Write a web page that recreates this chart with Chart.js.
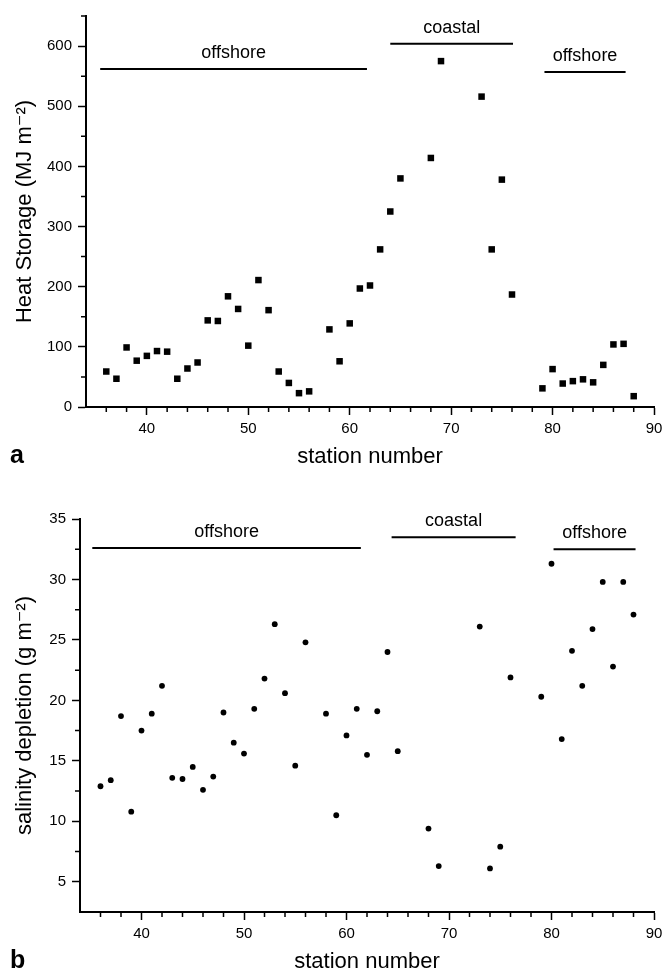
<!DOCTYPE html>
<html>
<head>
<meta charset="utf-8">
<script src="https://cdn.jsdelivr.net/npm/chart.js@4.4.1/dist/chart.umd.min.js"></script>
<style>
  body { margin: 0; background: #fff; }
  canvas { display: block; }
</style>
</head>
<body>
<canvas id="heatChart" width="663" height="470"></canvas>
<canvas id="salinityChart" width="663" height="505"></canvas>
<script>
const stations = [36, 37, 38, 39, 40, 41, 42, 43, 44, 45, 46, 47, 48, 49, 50, 51, 52, 53, 54, 55, 56,
  58, 59, 60, 61, 62, 63, 64, 65, 68, 69, 73, 74, 75, 76, 79, 80, 81, 82, 83, 84, 85, 86, 87, 88];

const heatStorage = [59, 47, 99, 77, 85, 93, 92, 47, 64, 74, 144, 143, 184, 163, 102, 211, 161, 59, 40, 23, 26,
  129, 76, 139, 197, 202, 262, 325, 380, 414, 575, 516, 262, 378, 187, 31, 63, 39, 43, 46, 41, 70, 104, 105, 18];

const salinityDepletion = [12.9, 13.4, 18.7, 10.8, 17.5, 18.9, 21.2, 13.6, 13.5, 14.5, 12.6, 13.7, 19.0, 16.5,
  15.6, 19.3, 21.8, 26.3, 20.6, 14.6, 24.8, 18.9, 10.5, 17.1, 19.3, 15.5, 19.1, 24.0, 15.8, 9.4, 6.3, 26.1, 6.1,
  7.9, 21.9, 20.3, 31.3, 16.8, 24.1, 21.2, 25.9, 29.8, 22.8, 29.8, 27.1];

const stationTicks = [40, 50, 60, 70, 80, 90];
const heatTicks = [0, 100, 200, 300, 400, 500, 600];
const salinityTicks = [5, 10, 15, 20, 25, 30, 35];

// station ranges of the water types, and the level their bar is drawn at
const regionNames = ["offshore", "coastal", "offshore"];
const heatRegionFrom = [35.4, 64.0, 79.2];
const heatRegionTo = [61.7, 76.1, 87.2];
const heatRegionLevel = [562, 604, 557];
const salinityRegionFrom = [35.2, 64.4, 80.2];
const salinityRegionTo = [61.4, 76.5, 88.2];
const salinityRegionLevel = [32.6, 33.5, 32.5];

const FONT = "'Liberation Sans', Arial, 'DejaVu Sans', sans-serif";
Chart.defaults.font.family = FONT;
Chart.defaults.color = "#000";

const minorTicks = {
  id: "minorTicks",
  afterDraw(chart, args, opts) {
    const { ctx, scales } = chart;
    const x = scales.x, y = scales.y;
    ctx.save();
    ctx.strokeStyle = "#000";
    ctx.lineWidth = 1.5;
    ctx.beginPath();
    for (let v = x.min + opts.xStep; v < x.max; v += opts.xStep) {
      if (v % opts.xMajor === 0) continue;
      const px = x.getPixelForValue(v);
      ctx.moveTo(px, x.top);
      ctx.lineTo(px, x.top + 5);
    }
    for (let v = y.min + opts.yStep; v <= y.max; v += opts.yStep) {
      if (v % opts.yMajor === 0) continue;
      const py = y.getPixelForValue(v);
      ctx.moveTo(y.right - 5, py);
      ctx.lineTo(y.right, py);
    }
    ctx.stroke();
    ctx.restore();
  }
};

const regionLabels = {
  id: "regionLabels",
  afterDraw(chart, args, opts) {
    const { ctx, scales: { x, y } } = chart;
    ctx.save();
    ctx.fillStyle = "#000";
    ctx.font = "18px " + FONT;
    ctx.textAlign = "center";
    ctx.textBaseline = "alphabetic";
    regionNames.forEach((name, i) => {
      const px = x.getPixelForValue((opts.from[i] + opts.to[i]) / 2);
      const py = y.getPixelForValue(opts.level[i]) - 11;
      ctx.fillText(name, px, py);
    });
    ctx.font = "bold 25px " + FONT;
    ctx.textAlign = "left";
    ctx.textBaseline = "middle";
    ctx.fillText(opts.panel, 10, chart.height - 14);
    ctx.restore();
  }
};

function regionLines(from, to, level) {
  return from.map((f, i) => ({
    data: [{ x: f, y: level[i] }, { x: to[i], y: level[i] }],
    showLine: true,
    borderColor: "#000",
    borderWidth: 2,
    pointRadius: 0,
    clip: false
  }));
}

function axisX(width) {
  return {
    type: "linear",
    position: "bottom",
    min: 34,
    max: 90,
    border: { color: "#000", width: 2 },
    grid: { drawOnChartArea: false, tickLength: 8, tickColor: "#000", tickWidth: 1.5 },
    ticks: { padding: 5, font: { size: 15 }, maxRotation: 0 },
    afterBuildTicks: (s) => { s.ticks = stationTicks.map((v) => ({ value: v })); },
    title: { display: true, text: "station number", font: { size: 22 }, padding: 0 },
    afterFit: (s) => { s.height = 63; s.paddingLeft = 0; s.paddingRight = 0; }
  };
}

function axisY(min, max, ticks, title, width) {
  return {
    type: "linear",
    position: "left",
    min: min,
    max: max,
    border: { color: "#000", width: 2 },
    grid: { drawOnChartArea: false, tickLength: 8, tickColor: "#000", tickWidth: 1.5 },
    ticks: { padding: 6, font: { size: 15 } },
    afterBuildTicks: (s) => { s.ticks = ticks.map((v) => ({ value: v })); },
    title: { display: true, text: title, font: { size: 22 }, padding: { top: 12, bottom: 0 } },
    afterFit: (s) => { s.width = width; s.paddingTop = 0; s.paddingBottom = 0; }
  };
}

new Chart(document.getElementById("heatChart"), {
  type: "scatter",
  data: {
    datasets: [
      {
        data: stations.map((s, i) => ({ x: s, y: heatStorage[i] })),
        pointStyle: "rect",
        pointRadius: 4.6,
        pointBorderWidth: 0,
        backgroundColor: "#000",
        borderColor: "#000"
      },
      ...regionLines(heatRegionFrom, heatRegionTo, heatRegionLevel)
    ]
  },
  options: {
    responsive: false,
    animation: false,
    layout: { padding: { left: 0, right: 9, top: 16, bottom: 0 } },
    scales: {
      x: axisX(),
      y: axisY(0, 650, heatTicks, "Heat Storage (MJ m\u207B\u00B2)", 86)
    },
    plugins: {
      legend: { display: false },
      tooltip: { enabled: false },
      minorTicks: { xStep: 2, xMajor: 10, yStep: 50, yMajor: 100 },
      regionLabels: { from: heatRegionFrom, to: heatRegionTo, level: heatRegionLevel, panel: "a" }
    }
  },
  plugins: [minorTicks, regionLabels]
});

new Chart(document.getElementById("salinityChart"), {
  type: "scatter",
  data: {
    datasets: [
      {
        data: stations.map((s, i) => ({ x: s, y: salinityDepletion[i] })),
        pointStyle: "circle",
        pointRadius: 2.9,
        pointBorderWidth: 0,
        backgroundColor: "#000",
        borderColor: "#000"
      },
      ...regionLines(salinityRegionFrom, salinityRegionTo, salinityRegionLevel)
    ]
  },
  options: {
    responsive: false,
    animation: false,
    layout: { padding: { left: 0, right: 9, top: 49, bottom: 0 } },
    scales: {
      x: axisX(),
      y: axisY(2.5, 35, salinityTicks, "salinity depletion (g m\u207B\u00B2)", 80)
    },
    plugins: {
      legend: { display: false },
      tooltip: { enabled: false },
      minorTicks: { xStep: 2, xMajor: 10, yStep: 2.5, yMajor: 5 },
      regionLabels: { from: salinityRegionFrom, to: salinityRegionTo, level: salinityRegionLevel, panel: "b" }
    }
  },
  plugins: [minorTicks, regionLabels]
});
</script>
</body>
</html>
